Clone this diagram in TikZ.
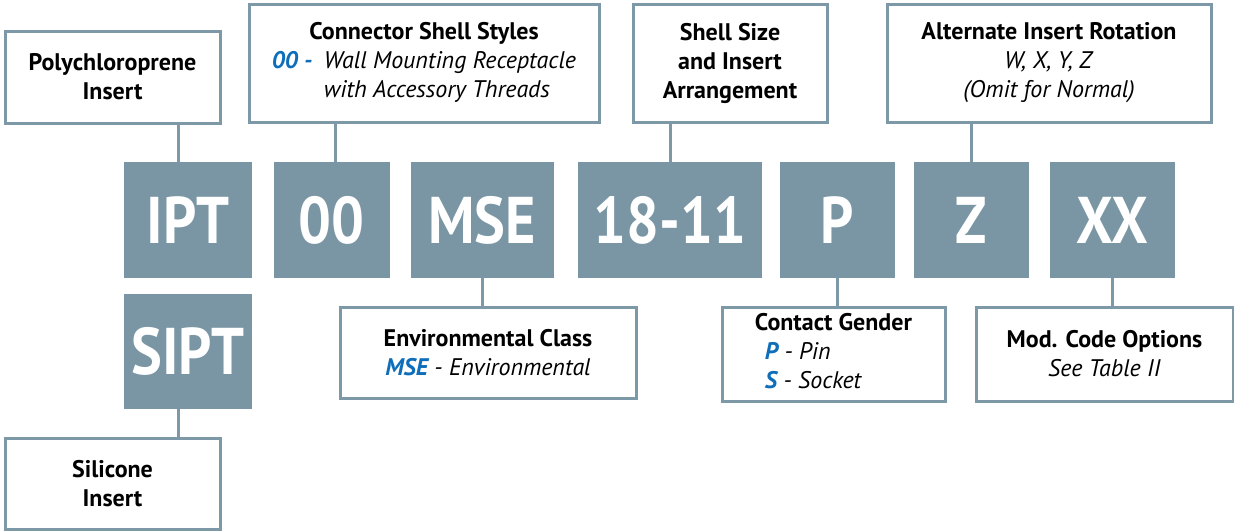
\documentclass[tikz,border=0pt]{standalone}
\usepackage{fontspec}
\setmainfont{PT Sans}
\newfontfamily\codefont[FakeStretch=0.88]{PT Sans}
\usepackage{tikz}

\definecolor{slate}{RGB}{122,150,164}
\definecolor{frame}{RGB}{125,153,167}
\definecolor{codeblue}{RGB}{14,110,186}

\tikzset{
  codebox/.style={fill=slate, text=white, inner sep=0pt,
    font=\codefont\fontsize{66}{66}\selectfont\bfseries},
  infobox/.style={draw=frame, line width=3pt, fill=white, inner sep=0pt,
    align=center, font=\fontsize{24}{29}\selectfont},
  link/.style={draw=frame, line width=3pt}
}
\newcommand{\opt}[1]{{\color{codeblue}\bfseries\itshape #1}}

\begin{document}
\begin{tikzpicture}[x=1pt, y=-1pt]
              \useasboundingbox (0,0) rectangle (1234,531);
              % part number blocks
              \node[codebox, minimum width=128pt, minimum height=116pt] (ipt) at (188,220) {IPT};
              \node[codebox, minimum width=115.5pt, minimum height=116pt] (shell) at (331.75,220) {00};
              \node[codebox, minimum width=142.6pt, minimum height=116pt] (mse) at (482.3,220) {MSE};
              \node[codebox, minimum width=184pt, minimum height=116pt] (size) at (670,220) {18-11};
              \node[codebox, minimum width=115pt, minimum height=116pt] (pin) at (837.5,220) {P};
              \node[codebox, minimum width=115pt, minimum height=116pt] (rot) at (971.5,220) {Z};
              \node[codebox, minimum width=125pt, minimum height=116pt] (xx) at (1112.5,220) {XX};
              \node[codebox, minimum width=128pt, minimum height=115pt] (sipt) at (188,351.5) {SIPT};
              % description boxes
              \node[infobox, minimum width=215pt, minimum height=92pt] (poly) at (112.5,77)
                {\textbf{Polychloroprene}\\\textbf{Insert}};
              \node[infobox, minimum width=350pt, minimum height=118pt] (shellstyle) at (424,63)
                {\begin{tabular}{@{}l@{}l@{}}
                  \multicolumn{2}{c}{\textbf{Connector Shell Styles}}\\
                  \makebox[52pt][l]{\opt{00 -}} & \textit{Wall Mounting Receptacle}\\
                   & \textit{with Accessory Threads}
                 \end{tabular}};
              \node[infobox, minimum width=194pt, minimum height=118pt] (sizebox) at (730,63)
                {\textbf{Shell Size}\\\textbf{and Insert}\\\textbf{Arrangement}};
              \node[infobox, minimum width=324pt, minimum height=118pt] (rotation) at (1049,63)
                {\textbf{Alternate Insert Rotation}\\\textit{W, X, Y, Z}\\\textit{(Omit for Normal)}};
              \node[infobox, minimum width=296pt, minimum height=91pt] (envclass) at (488,352.5)
                {\textbf{Environmental Class}\\\opt{MSE} \textit{- Environmental}};
              \node[infobox, minimum width=223pt, minimum height=94pt] (gender) at (833.5,354)
                {\begin{tabular}{@{}l@{}}
                  \multicolumn{1}{c}{\textbf{Contact Gender}}\\
                  \hspace*{16pt}\opt{P} \textit{- Pin}\\
                  \hspace*{16pt}\opt{S} \textit{- Socket}
                 \end{tabular}};
              \node[infobox, minimum width=257pt, minimum height=94pt] (modcode) at (1104.5,354)
                {\textbf{Mod. Code Options}\\\textit{See Table II}};
              \node[infobox, minimum width=215pt, minimum height=91pt] (silicone) at (112.5,484)
                {\textbf{Silicone}\\\textbf{Insert}};
              % leader lines
              \draw[link] ([xshift=-10pt]ipt.north) -- ([xshift=-10pt]ipt.north |- poly.south);
              \draw[link] ([xshift=4pt]shell.north) -- ([xshift=4pt]shell.north |- shellstyle.south);
              \draw[link] (size.north) -- (size.north |- sizebox.south);
              \draw[link] (rot.north) -- (rot.north |- rotation.south);
              \draw[link] (mse.south) -- (mse.south |- envclass.north);
              \draw[link] (pin.south) -- (pin.south |- gender.north);
              \draw[link] (xx.south) -- (xx.south |- modcode.north);
              \draw[link] ([xshift=-10pt]sipt.south) -- ([xshift=-10pt]sipt.south |- silicone.north);
          \end{tikzpicture}
\end{document}
